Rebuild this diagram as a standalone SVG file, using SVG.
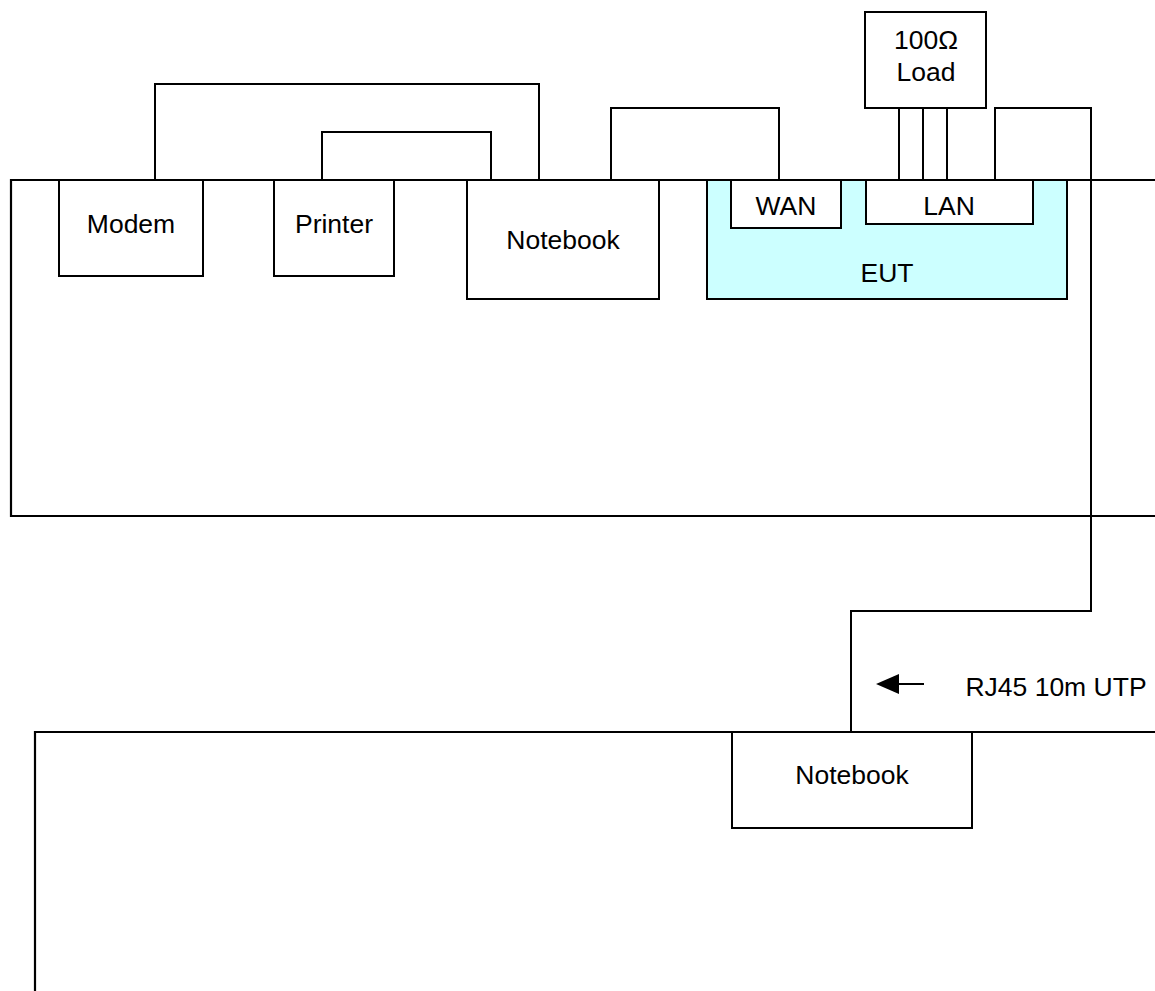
<svg xmlns="http://www.w3.org/2000/svg" width="1155" height="991" viewBox="0 0 1155 991">
<defs>
<style>
.ln{fill:none;stroke:#000;stroke-width:2}
.bx{fill:#fff;stroke:#000;stroke-width:2}
.eut{fill:#ccffff;stroke:#000;stroke-width:2}
.tb{fill:none;stroke:#000;stroke-width:2.2}
text{font-family:"Liberation Sans",Arial,sans-serif;font-size:26.5px;fill:#000;text-anchor:middle}
</style>
</defs>
<rect width="1155" height="991" fill="#fff"/>
<g id="tables">
<path class="tb" d="M1156,180 H11 V516 H1156"/>
<path class="tb" d="M1156,732 H35 V992"/>
</g>
<g id="connectors">
<path class="ln" d="M155,180 V84 H539 V180"/>
<path class="ln" d="M322,180 V132 H491 V180"/>
<path class="ln" d="M611,180 V108 H779 V180"/>
<path class="ln" d="M899,108 V180 M923,108 V180 M947,108 V180"/>
<path class="ln" d="M995,180 V108 H1091 V611 H851 V732"/>
<path class="ln" d="M924,684 H895"/>
<path d="M876,684 L899,674 L899,694 Z" fill="#000"/>
</g>
<g id="modem"><rect class="bx" x="59" y="180" width="144" height="96"/><text x="131" y="233">Modem</text></g>
<g id="printer"><rect class="bx" x="274" y="180" width="120" height="96"/><text x="334" y="233">Printer</text></g>
<g id="notebook1"><rect class="bx" x="467" y="180" width="192" height="119"/><text x="563" y="249">Notebook</text></g>
<g id="eut"><rect class="eut" x="707" y="180" width="360" height="119"/><text x="887" y="282">EUT</text></g>
<g id="wan"><rect class="bx" x="731" y="180" width="110" height="48"/><text x="786" y="215">WAN</text></g>
<g id="lan"><rect class="bx" x="866" y="180" width="167" height="44"/><text x="949" y="215">LAN</text></g>
<g id="load"><rect class="bx" x="865" y="12" width="121" height="96"/><text x="926" y="49">100Ω</text><text x="926" y="81">Load</text></g>
<g id="notebook2"><rect class="bx" x="732" y="732" width="240" height="96"/><text x="852" y="784">Notebook</text></g>
<g id="label"><text x="1056" y="696">RJ45 10m UTP</text></g>
</svg>
